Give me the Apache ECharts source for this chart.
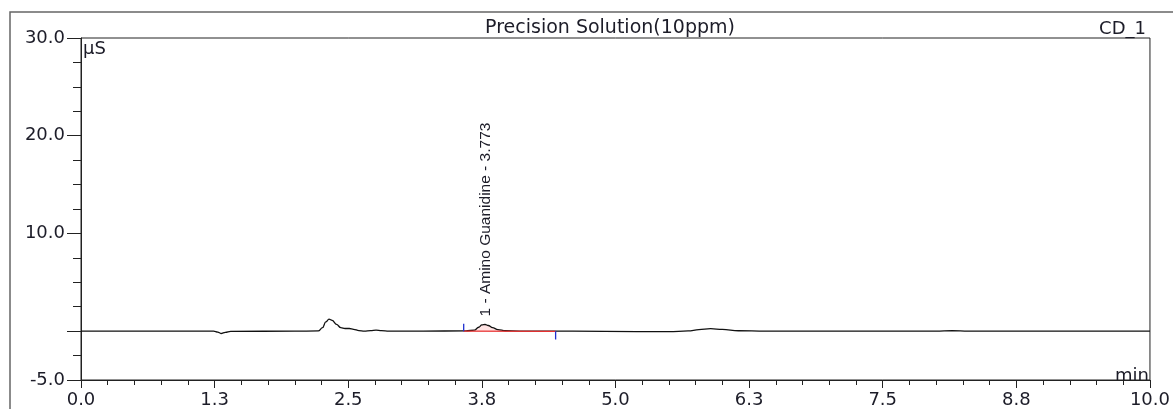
<!DOCTYPE html>
<html>
<head>
<meta charset="utf-8">
<title>Precision Solution(10ppm)</title>
<script src="https://cdn.jsdelivr.net/npm/echarts@6/dist/echarts.min.js"></script>
<style>
    html, body { margin: 0; padding: 0; background: #fff; }
    #main { width: 1173px; height: 409px; }
</style>
</head>
<body>
<div id="main"></div>
<script>
    // retention time (min) / conductivity (uS)
    var traceTime = [0.00, 1.24, 1.28, 1.31, 1.35, 1.40, 2.00, 2.22, 2.26, 2.29, 2.32, 2.35, 2.39, 2.43, 2.47, 2.51,
        2.55, 2.60, 2.65, 2.71, 2.76, 2.81, 2.88, 3.20, 3.60, 3.68, 3.72, 3.75, 3.78, 3.81, 3.85, 3.90, 3.97, 4.10,
        4.60, 5.20, 5.50, 5.68, 5.78, 5.89, 6.00, 6.15, 6.40, 8.00, 8.15, 8.30, 10.00];
    var traceSignal = [0.00, 0.00, -0.10, -0.24, -0.12, -0.02, 0.00, 0.02, 0.35, 0.95, 1.22, 1.10, 0.70, 0.35, 0.27, 0.27,
        0.18, 0.06, 0.00, 0.06, 0.11, 0.05, 0.01, 0.00, 0.03, 0.10, 0.40, 0.64, 0.68, 0.58, 0.35, 0.16, 0.04, 0.01,
        0.00, -0.04, -0.05, 0.02, 0.15, 0.25, 0.18, 0.04, 0.00, 0.00, 0.04, 0.00, 0.00];

    // peak 1 integration: baseline (red) and start / end marks (blue)
    var peakName = '1 - Amino Guanidine - 3.773';
    var peakLabelAt = [3.79, 1.5];
    var baseTime = [3.58, 4.44];
    var baseLevel = [0.00, -0.02];
    var markEnd = [0.75, -0.85];

    // axis ticks
    var yMajorTicks = [-5, 0, 10, 20, 30];
    var yLabels = [-5, 10, 20, 30];

    var font = 'DejaVu Sans';
    var ink = '#1c1c28';

    var trace = [];
    var peakFill = [];
    for (var i = 0; i < traceTime.length; i++) {
        trace.push([traceTime[i], traceSignal[i]]);
        if (traceTime[i] >= baseTime[0] && traceTime[i] <= baseTime[1]) {
            peakFill.push([traceTime[i], traceSignal[i]]);
        }
    }

    var chart = echarts.init(document.getElementById('main'));
    chart.setOption({
        animation: false,
        grid: {
            left: 81, right: 21, top: 38, bottom: 26,
            show: true, borderColor: '#222', borderWidth: 1
        },
        xAxis: {
            type: 'value', min: 0, max: 10, interval: 1.25,
            axisLine: { show: true, onZero: false, lineStyle: { color: '#222' } },
            axisTick: { show: true, length: 8, lineStyle: { color: '#222' } },
            minorTick: { show: true, splitNumber: 5, length: 5, lineStyle: { color: '#222' } },
            axisLabel: {
                margin: 11, fontSize: 18, fontFamily: font, color: ink,
                formatter: function (v) { return v.toFixed(1); }
            },
            splitLine: { show: false }
        },
        yAxis: [
            {
                type: 'value', min: -5, max: 30, interval: 2.5, position: 'left',
                axisLine: { show: true, lineStyle: { color: '#222' } },
                axisTick: { show: true, length: 8, lineStyle: { color: '#222' } },
                axisLabel: { show: false },
                splitLine: { show: false }
            },
            {
                type: 'value', min: -5, max: 30, interval: 2.5, position: 'left', offset: 0,
                axisLine: { show: false },
                axisTick: { show: true, length: 14, customValues: yMajorTicks, lineStyle: { color: '#222' } },
                axisLabel: {
                    customValues: yLabels, margin: 16, fontSize: 18, fontFamily: font, color: ink,
                    formatter: function (v) { return v.toFixed(1); }
                },
                splitLine: { show: false }
            }
        ],
        series: [
            {
                name: 'fill', type: 'line', data: peakFill, symbol: 'none', smooth: 0.4,
                lineStyle: { width: 0 }, areaStyle: { color: 'rgba(255,140,140,0.35)' }, z: 1
            },
            {
                name: 'CD_1', type: 'line', data: trace, symbol: 'none', smooth: 0.4, smoothMonotone: 'x',
                lineStyle: { color: '#111', width: 1.3 }, z: 2,
                markPoint: {
                    symbol: 'circle', symbolSize: 0,
                    data: [{ coord: peakLabelAt }],
                    label: {
                        show: true, position: 'inside', rotate: 90, align: 'left', verticalAlign: 'middle',
                        formatter: peakName,
                        fontFamily: "'Liberation Sans', Arial, sans-serif",
                        fontSize: 15.5, color: ink
                    }
                }
            },
            {
                name: 'baseline', type: 'line', symbol: 'none', z: 3,
                data: [[baseTime[0], baseLevel[0]], [baseTime[1], baseLevel[1]]],
                lineStyle: { color: '#e83030', width: 1.3 }
            },
            {
                name: 'start', type: 'line', symbol: 'none', z: 4,
                data: [[baseTime[0], baseLevel[0]], [baseTime[0], markEnd[0]]],
                lineStyle: { color: '#2030d0', width: 1.3 }
            },
            {
                name: 'end', type: 'line', symbol: 'none', z: 4,
                data: [[baseTime[1], baseLevel[1]], [baseTime[1], markEnd[1]]],
                lineStyle: { color: '#2030d0', width: 1.3 }
            }
        ],
        graphic: [
            {
                type: 'rect', silent: true,
                shape: { x: 10, y: 12, width: 1300, height: 500 },
                style: { fill: 'none', stroke: '#666', lineWidth: 1.5 }
            },
            {
                type: 'text', x: 610, y: 28,
                style: { text: 'Precision Solution(10ppm)', font: '19px "DejaVu Sans"', fill: ink, align: 'center', verticalAlign: 'middle' }
            },
            {
                type: 'text', x: 1146, y: 29,
                style: { text: 'CD_1', font: '18px "DejaVu Sans"', fill: ink, align: 'right', verticalAlign: 'middle' }
            },
            {
                type: 'text', x: 83, y: 49,
                style: { text: 'µS', font: '18px "DejaVu Sans"', fill: ink, align: 'left', verticalAlign: 'middle' }
            },
            {
                type: 'text', x: 1149, y: 376,
                style: { text: 'min', font: '18px "DejaVu Sans"', fill: ink, align: 'right', verticalAlign: 'middle' }
            }
        ]
    });
</script>
</body>
</html>
